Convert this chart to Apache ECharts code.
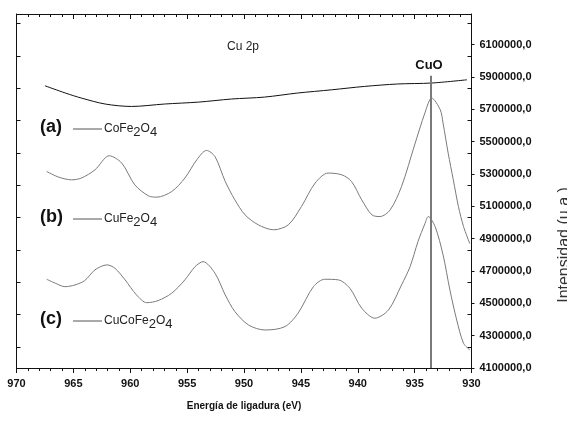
<!DOCTYPE html>
<html>
<head>
<meta charset="utf-8">
<script src="https://cdn.jsdelivr.net/npm/echarts@6/dist/echarts.min.js"></script>
<style>
  html, body { margin: 0; padding: 0; background: #fff; }
  #main { width: 567px; height: 426px; }
</style>
</head>
<body>
<div id="main"></div>
<script>
// (a) CoFe2O4
var energyA = [967.5, 965.7, 964.3, 962.2, 959.9, 957.0, 954.0, 951.1, 948.2, 945.3, 942.3, 939.4, 936.5, 933.5, 930.4];
var intensA = [5846000, 5801000, 5770000, 5733000, 5718000, 5733000, 5745000, 5764000, 5776000, 5801000, 5821000, 5842000, 5857000, 5863000, 5883000];

// (b) CuFe2O4
var energyB = [967.35, 966.3, 965.15, 964.3, 963.1, 961.85, 960.75, 959.6, 958.4, 957.65, 956.35, 955.2, 954.15, 953.3, 952.55,
  951.65, 950.8, 949.9, 948.75, 947.4, 946.1, 944.95, 943.75, 942.6, 941.4, 940.55, 939.65, 938.75, 938.05, 937.15,
  936.15, 935.0, 934.1, 933.5, 932.75, 932.5, 932.05, 931.6, 931.15, 930.7, 930.15];
var intensB = [5316000, 5281000, 5264000, 5275000, 5326000, 5413000, 5368000, 5233000, 5165000, 5157000, 5192000, 5275000, 5388000, 5446000, 5408000,
  5254000, 5140000, 5047000, 4986000, 4955000, 4986000, 5099000, 5244000, 5306000, 5295000, 5254000, 5140000, 5047000, 5037000, 5078000,
  5223000, 5480000, 5677000, 5770000, 5698000, 5615000, 5429000, 5264000, 5099000, 4975000, 4870000];

// (c) CuCoFe2O4
var energyC = [967.35, 966.6, 965.75, 964.85, 964.0, 963.1, 962.05, 961.35, 960.45, 959.45, 958.55, 957.55, 956.35, 955.2, 954.3,
  953.6, 952.55, 951.65, 950.8, 949.6, 948.15, 946.4, 945.25, 943.9, 942.9, 941.7, 940.7, 939.65, 938.5, 937.3,
  936.15, 935.4, 934.7, 934.1, 933.8, 933.2, 932.5, 931.9, 931.3, 930.7, 930.15];
var intensC = [4649000, 4625000, 4603000, 4614000, 4641000, 4707000, 4738000, 4717000, 4645000, 4552000, 4504000, 4517000, 4563000, 4645000, 4727000,
  4758000, 4686000, 4552000, 4449000, 4366000, 4335000, 4356000, 4439000, 4603000, 4649000, 4645000, 4594000, 4470000, 4408000, 4459000,
  4614000, 4727000, 4883000, 4992000, 5037000, 4975000, 4800000, 4583000, 4397000, 4253000, 4212000];

// CuO reference line
var cuoEnergy = 933.55;
var cuoTop = 5908000;

// unlabelled ticks: inner ticks on the side axes, minor ticks on the energy axes
var innerTicks = [4230000, 4430000, 4630000, 4830000, 5030000, 5230000, 5430000, 5630000, 5830000, 6030000, 6230000];
var minorEnergy = [];
for (var e = 931; e < 970; e++) { if (e % 5 !== 0) minorEnergy.push(e); }

var yMin = 4100000, yMax = 6290000, yStep = 200000;

var legendNames = [
  { tag: '(a)', rich: '{n|CoFe}{s|2}{n|O}{s|4}', y: 129 },
  { tag: '(b)', rich: '{n|CuFe}{s|2}{n|O}{s|4}', y: 219 },
  { tag: '(c)', rich: '{n|CuCoFe}{s|2}{n|O}{s|4}', y: 321 }
];

function pairs(xs, ys) {
  return xs.map(function (x, i) { return [x, ys[i]]; });
}

var font = 'Liberation Sans, Arial, sans-serif';
var ink = '#111';
var chart = echarts.init(document.getElementById('main'));

var graphics = [];
legendNames.forEach(function (l) {
  graphics.push({
    type: 'text', left: 40, top: l.y - 11,
    style: { text: l.tag, font: 'bold 18px ' + font, fill: ink }
  });
  graphics.push({
    type: 'line', shape: { x1: 73, y1: l.y, x2: 102, y2: l.y },
    style: { stroke: '#555', lineWidth: 1 }
  });
  graphics.push({
    type: 'text', x: 104, y: l.y,
    style: {
      text: l.rich, fill: '#222', verticalAlign: 'middle',
      rich: {
        n: { fontFamily: font, fontSize: 12, lineHeight: 20, fill: '#222' },
        s: { fontFamily: font, fontSize: 13, lineHeight: 12, verticalAlign: 'bottom', fill: '#222' }
      }
    }
  });
});
graphics.push({
  type: 'text', x: 243, y: 47,
  style: { text: 'Cu 2p', font: '12px ' + font, fill: '#222', align: 'center', verticalAlign: 'middle' }
});
graphics.push({
  type: 'text', x: 429, y: 65,
  style: { text: 'CuO', font: 'bold 13px ' + font, fill: ink, align: 'center', verticalAlign: 'middle' }
});
graphics.push({
  type: 'text', x: 244, y: 406,
  style: { text: 'Energía de ligadura (eV)', font: 'bold 10px ' + font, fill: ink, align: 'center', verticalAlign: 'middle' }
});
graphics.push({
  type: 'text', x: 565, y: 245, rotation: Math.PI / 2,
  style: { text: 'Intensidad (u.a.)', font: '16px ' + font, fill: '#333', align: 'center', verticalAlign: 'middle' }
});

function energyAxis(pos, opts) {
  return Object.assign({
    type: 'value', min: 930, max: 970, interval: 5, inverse: true, position: pos,
    splitLine: { show: false },
    axisLine: { show: true, onZero: false, lineStyle: { color: ink, width: 1 } },
    axisLabel: { show: false }
  }, opts);
}

chart.setOption({
  animation: false,
  grid: { left: 16.5, right: 95.5, top: 14, bottom: 58, containLabel: false },
  xAxis: [
    // bottom: labelled majors, outward
    energyAxis('bottom', {
      axisTick: { show: true, inside: false, length: 5, lineStyle: { color: ink } },
      axisLabel: { show: true, color: ink, fontFamily: font, fontWeight: 'bold', fontSize: 11, margin: 10 }
    }),
    // bottom minors, outward
    energyAxis('bottom', {
      axisLine: { show: false, onZero: false },
      axisTick: { show: true, inside: false, length: 3, customValues: minorEnergy, lineStyle: { color: ink } }
    }),
    // top majors, inward
    energyAxis('top', {
      axisTick: { show: true, inside: true, length: 5, lineStyle: { color: ink } }
    }),
    // top minors, inward
    energyAxis('top', {
      axisLine: { show: false, onZero: false },
      axisTick: { show: true, inside: true, length: 3, customValues: minorEnergy, lineStyle: { color: ink } }
    })
  ],
  yAxis: [
    {
      type: 'value', position: 'right', min: yMin, max: yMax, interval: yStep,
      splitLine: { show: false },
      axisLine: { show: true, onZero: false, lineStyle: { color: ink } },
      axisTick: { show: true, inside: false, length: 3, lineStyle: { color: ink } },
      axisLabel: {
        color: ink, fontFamily: font, fontWeight: 'bold', fontSize: 11, margin: 8,
        showMaxLabel: false,
        formatter: function (v) { return v + ',0'; }
      }
    },
    {
      type: 'value', position: 'left', min: yMin, max: yMax,
      splitLine: { show: false },
      axisLine: { show: true, onZero: false, lineStyle: { color: ink } },
      axisTick: { show: true, inside: true, length: 4, customValues: innerTicks, lineStyle: { color: ink } },
      axisLabel: { show: false }
    },
    {
      type: 'value', position: 'right', min: yMin, max: yMax,
      splitLine: { show: false },
      axisLine: { show: false, onZero: false },
      axisTick: { show: true, inside: true, length: 4, customValues: innerTicks, lineStyle: { color: ink } },
      axisLabel: { show: false }
    }
  ],
  series: [
    {
      name: 'CoFe2O4', type: 'line', data: pairs(energyA, intensA), showSymbol: false, smooth: 0.3, silent: true,
      lineStyle: { color: ink, width: 1 }
    },
    {
      name: 'CuFe2O4', type: 'line', data: pairs(energyB, intensB), showSymbol: false, smooth: 0.3, silent: true,
      lineStyle: { color: '#7a7a7a', width: 1 }
    },
    {
      name: 'CuCoFe2O4', type: 'line', data: pairs(energyC, intensC), showSymbol: false, smooth: 0.3, silent: true,
      lineStyle: { color: '#7a7a7a', width: 1 },
      markLine: {
        silent: true, symbol: 'none', animation: false,
        label: { show: false },
        lineStyle: { color: '#7a7a7a', width: 2, type: 'solid' },
        data: [[{ coord: [cuoEnergy, cuoTop] }, { coord: [cuoEnergy, yMin] }]]
      }
    }
  ],
  graphic: graphics
});
</script>
</body>
</html>
